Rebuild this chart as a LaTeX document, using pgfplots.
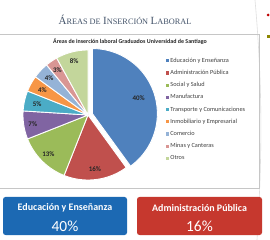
\documentclass[border=0pt]{standalone}
\usepackage{pgfplots}
\pgfplotsset{compat=1.18}
\usepackage{fontspec}
\setmainfont{Carlito}
\newfontfamily\titlefont{Liberation Serif}
\definecolor{c1}{HTML}{4F81BD}
\definecolor{c2}{HTML}{C0504D}
\definecolor{c3}{HTML}{9BBB59}
\definecolor{c4}{HTML}{8064A2}
\definecolor{c5}{HTML}{4BACC6}
\definecolor{c6}{HTML}{F79646}
\definecolor{c7}{HTML}{95B3D7}
\definecolor{c8}{HTML}{D99694}
\definecolor{c9}{HTML}{C3D69B}
\definecolor{boxblue}{HTML}{1C69B3}
\definecolor{boxred}{HTML}{C6382E}
\definecolor{titlec}{HTML}{44546A}
\newcommand{\fsc}[2]{{\fontsize{11}{11}\selectfont #1}{\fontsize{8.3}{8.3}\selectfont #2}}
\begin{document}
\begin{tikzpicture}[x=1bp,y=1bp]
\useasboundingbox (0,0) rectangle (270,240);
\fill[white] (0,0) rectangle (270,240);
% decorations at right
\draw[gray!25, line width=0.6bp] (255,240) .. controls (263,150) and (262,80) .. (257,0);
\fill[red!75!black] (268,225) circle (1.5bp);
\fill[olive] (266.5,202) rectangle (269.5,205);
% chart frame
\draw[gray!45, line width=0.6bp] (-1,52) rectangle (259,205.5);
% slide title
\node[titlec, font=\titlefont] at (125,220) {\fsc{Á}{REAS DE} \fsc{I}{NSERCIÓN} \fsc{L}{ABORAL}};
% chart title
\node[black!85, font=\bfseries\fontsize{6}{7}\selectfont] at (130,199) {Áreas de inserción laboral Graduados Universidad de Santiago};
\begin{axis}[
  at={(88bp,125bp)}, anchor=center,
  width=130bp, height=130bp, scale only axis,
  xmin=-1, xmax=1, ymin=-1, ymax=1,
  hide axis, clip=false,
  samples=60,
  legend style={draw=none, fill=none, at={(1.077,0.965)}, anchor=north west,
    font=\fontsize{6.3}{7}\selectfont, text=black!75, row sep=4.4bp,
    nodes={inner sep=1bp}},
  legend cell align=left,
  legend image code/.code={\fill[#1, draw=none] (0bp,-1.6bp) rectangle (3.2bp,1.6bp);},
  every axis plot/.append style={draw=white, line width=0.9bp},
]
% shares (%): 40, 16, 13, 7, 5, 4, 4, 3, 8 ; angle = 90 - 3.6*cumulative
\addplot[fill=c1, domain=-54:90] ({0.067+cos(x)},{0.022+sin(x)}) -- (0.067,0.022) -- cycle;
\addlegendentry{Educación y Enseñanza}
\addplot[fill=c2, domain=-111.6:-54] ({cos(x)},{sin(x)}) -- (0,0) -- cycle;
\addlegendentry{Administración Pública}
\addplot[fill=c3, domain=-158.4:-111.6] ({cos(x)},{sin(x)}) -- (0,0) -- cycle;
\addlegendentry{Social y Salud}
\addplot[fill=c4, domain=-183.6:-158.4] ({cos(x)},{sin(x)}) -- (0,0) -- cycle;
\addlegendentry{Manufactura}
\addplot[fill=c5, domain=-201.6:-183.6] ({cos(x)},{sin(x)}) -- (0,0) -- cycle;
\addlegendentry{Transporte y Comunicaciones}
\addplot[fill=c6, domain=-216:-201.6] ({cos(x)},{sin(x)}) -- (0,0) -- cycle;
\addlegendentry{Inmobiliario y Empresarial}
\addplot[fill=c7, domain=-230.4:-216] ({cos(x)},{sin(x)}) -- (0,0) -- cycle;
\addlegendentry{Comercio}
\addplot[fill=c8, domain=-241.2:-230.4] ({cos(x)},{sin(x)}) -- (0,0) -- cycle;
\addlegendentry{Minas y Canteras}
\addplot[fill=c9, domain=-270:-241.2] ({cos(x)},{sin(x)}) -- (0,0) -- cycle;
\addlegendentry{Otros}
\tikzset{lab/.style={font=\bfseries\fontsize{7}{8}\selectfont, text=black!85}}
\node[lab] at (axis cs:{0.067+0.75*cos(18)},{0.022+0.75*sin(18)}) {40\%};
\node[lab] at (axis cs:{0.84*cos(-82.8)},{0.84*sin(-82.8)}) {16\%};
\node[lab] at (axis cs:{0.86*cos(-135)},{0.86*sin(-135)}) {13\%};
\node[lab] at (axis cs:{0.86*cos(-171)},{0.86*sin(-171)}) {7\%};
\node[lab] at (axis cs:{0.8*cos(-192.6)},{0.8*sin(-192.6)}) {5\%};
\node[lab] at (axis cs:{0.8*cos(-208.8)},{0.8*sin(-208.8)}) {4\%};
\node[lab] at (axis cs:{0.82*cos(-223.2)},{0.82*sin(-223.2)}) {4\%};
\node[lab] at (axis cs:{0.84*cos(-235.8)},{0.84*sin(-235.8)}) {3\%};
\node[lab] at (axis cs:{0.86*cos(-255.6)},{0.86*sin(-255.6)}) {8\%};
\end{axis}
% bottom boxes
\fill[boxblue, rounded corners=2.5bp] (3,5) rectangle (127,43);
\fill[boxred, rounded corners=2.5bp] (137,5) rectangle (262,43);
\node[white, font=\bfseries\fontsize{10}{12}\selectfont] at (65,32) {Educación y Enseñanza};
\node[white, font=\fontsize{15.5}{16}\selectfont] at (65,13.5) {40\%};
\node[white, font=\bfseries\fontsize{10}{12}\selectfont] at (199.5,32) {Administración Pública};
\node[white, font=\fontsize{15.5}{16}\selectfont] at (199.5,13.5) {16\%};
\end{tikzpicture}
\end{document}
